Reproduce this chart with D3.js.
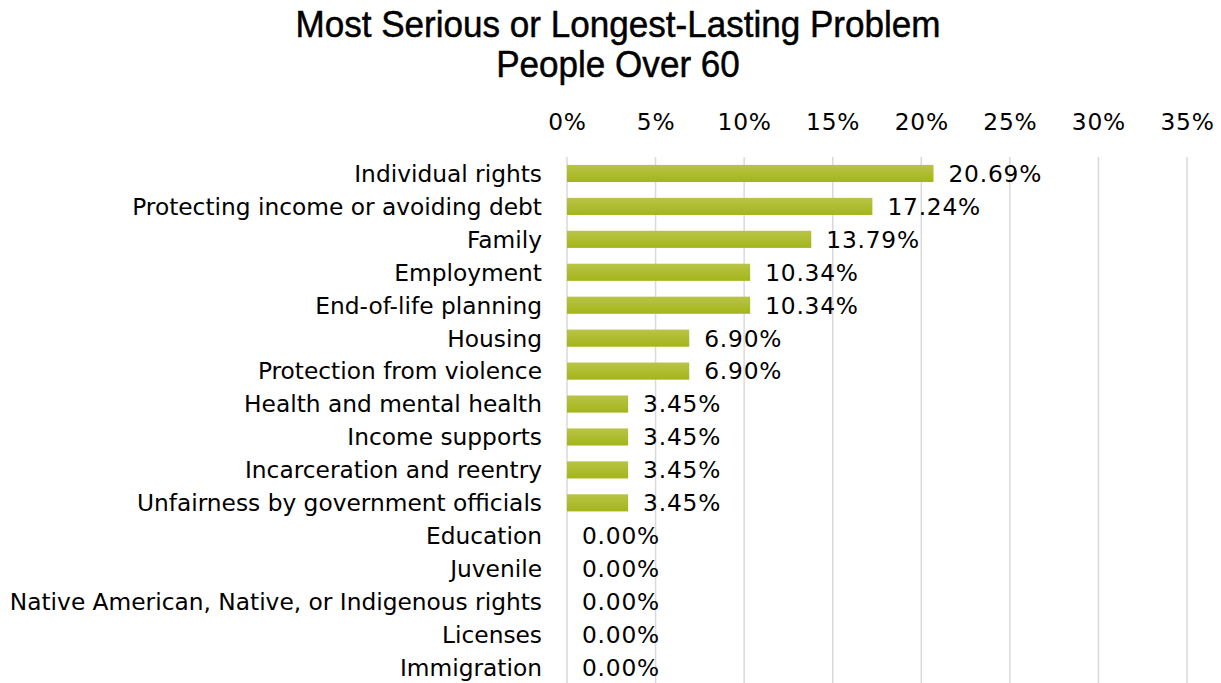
<!DOCTYPE html>
<html>
<head>
<meta charset="utf-8">
<script src="https://cdn.jsdelivr.net/npm/d3@7"></script>
<style>
  html, body { margin: 0; padding: 0; background: #fff; }
  svg { display: block; }
</style>
</head>
<body>
<svg id="chart" width="1221" height="683"></svg>
<script>
// Problem categories, top to bottom
const categories = [
  "Individual rights",
  "Protecting income or avoiding debt",
  "Family",
  "Employment",
  "End-of-life planning",
  "Housing",
  "Protection from violence",
  "Health and mental health",
  "Income supports",
  "Incarceration and reentry",
  "Unfairness by government officials",
  "Education",
  "Juvenile",
  "Native American, Native, or Indigenous rights",
  "Licenses",
  "Immigration"
];

// Share of respondents over 60 (percent)
const shares = [20.69, 17.24, 13.79, 10.34, 10.34, 6.90, 6.90, 3.45, 3.45, 3.45, 3.45, 0, 0, 0, 0, 0];

// Axis ticks (percent)
const tickValues = [0, 5, 10, 15, 20, 25, 30, 35];

const titleLines = ["Most Serious or Longest-Lasting Problem", "People Over 60"];

const svg = d3.select("#chart");
const W = 1221, H = 683;
const margin = { top: 157, right: 34, bottom: 0, left: 567 };

const x = d3.scaleLinear().domain([0, 35]).range([margin.left, W - margin.right]);
const y = d3.scaleBand().domain(categories).range([margin.top, H + 1]).paddingInner(0.48).paddingOuter(0.24);

const defs = svg.append("defs");
const grad = defs.append("linearGradient")
  .attr("id", "barFill").attr("x1", 0).attr("y1", 0).attr("x2", 0).attr("y2", 1);
grad.append("stop").attr("offset", "0%").attr("stop-color", "#b9c447");
grad.append("stop").attr("offset", "100%").attr("stop-color", "#a3b519");

const labelFont = "'DejaVu Sans', sans-serif";
const labelSize = 23.3;
const numberSpacing = 0.8;

// Title, slightly condensed horizontally
const titleCx = 618;
svg.append("g")
  .attr("transform", `translate(${titleCx},0) scale(0.935,1)`)
  .selectAll("text")
  .data(titleLines)
  .join("text")
  .attr("x", 0)
  .attr("y", (d, i) => 37 + i * 40)
  .attr("text-anchor", "middle")
  .attr("font-family", "'Liberation Sans', Arial, sans-serif")
  .attr("font-size", 37.5)
  .attr("fill", "#000")
  .attr("stroke", "#000")
  .attr("stroke-width", 0.5)
  .text(d => d);

// Vertical gridlines
svg.append("g")
  .selectAll("line")
  .data(tickValues)
  .join("line")
  .attr("x1", d => x(d)).attr("x2", d => x(d))
  .attr("y1", margin.top).attr("y2", H)
  .attr("stroke", "#d9d9d9")
  .attr("stroke-width", 1.5);

// Top axis labels
const axis = d3.axisTop(x).tickValues(tickValues).tickFormat(d => d + "%").tickSize(0);
const axisG = svg.append("g").attr("transform", "translate(0,133)").call(axis);
axisG.select(".domain").remove();
axisG.selectAll("text")
  .attr("font-family", labelFont)
  .attr("font-size", labelSize)
  .attr("letter-spacing", numberSpacing)
  .attr("fill", "#000")
  .attr("dy", 0);

// Category labels
const yAxis = d3.axisLeft(y).tickSize(0).tickPadding(25);
const yG = svg.append("g").attr("transform", `translate(${margin.left},0)`).call(yAxis);
yG.select(".domain").remove();
yG.selectAll("text")
  .attr("font-family", labelFont)
  .attr("font-size", labelSize)
  .attr("fill", "#000")
  .attr("dy", "0.36em");

// Bars
svg.append("g")
  .selectAll("rect")
  .data(categories.map((c, i) => ({ c, v: shares[i] })))
  .join("rect")
  .attr("x", x(0))
  .attr("y", d => y(d.c))
  .attr("width", d => x(d.v) - x(0))
  .attr("height", y.bandwidth())
  .attr("fill", "url(#barFill)");

// Value labels
svg.append("g")
  .selectAll("text")
  .data(categories.map((c, i) => ({ c, v: shares[i] })))
  .join("text")
  .attr("x", d => x(d.v) + 15)
  .attr("y", d => y(d.c) + y.bandwidth() / 2)
  .attr("dy", "0.36em")
  .attr("font-family", labelFont)
  .attr("font-size", labelSize)
  .attr("letter-spacing", numberSpacing)
  .attr("fill", "#000")
  .text(d => d.v.toFixed(2) + "%");
</script>
</body>
</html>
